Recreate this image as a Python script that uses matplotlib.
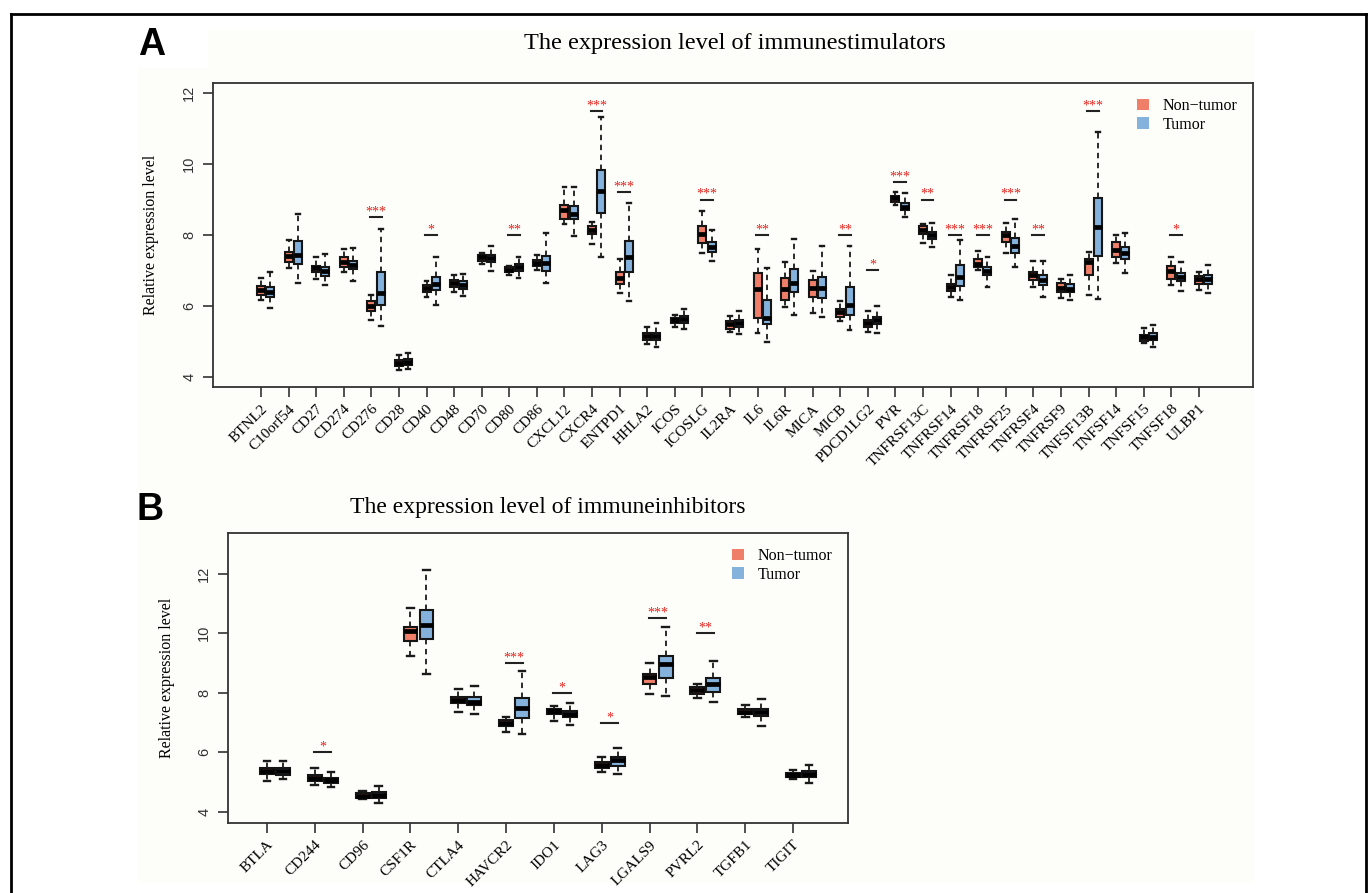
import numpy as np
import matplotlib.pyplot as plt
from matplotlib.patches import Patch, Rectangle
from matplotlib.lines import Line2D

# panel A: immunestimulators
genes_a = ["BTNL2", "C10orf54", "CD27", "CD274", "CD276", "CD28", "CD40", "CD48",
           "CD70", "CD80", "CD86", "CXCL12", "CXCR4", "ENTPD1", "HHLA2", "ICOS",
           "ICOSLG", "IL2RA", "IL6", "IL6R", "MICA", "MICB", "PDCD1LG2", "PVR",
           "TNFRSF13C", "TNFRSF14", "TNFRSF18", "TNFRSF25", "TNFRSF4", "TNFRSF9",
           "TNFSF13B", "TNFSF14", "TNFSF15", "TNFSF18", "ULBP1"]
# columns: lower whisker, q1, median, q3, upper whisker
normal_a = [
    [6.16, 6.31, 6.45, 6.56, 6.78], [7.06, 7.25, 7.41, 7.51, 7.86],
    [6.75, 6.95, 7.06, 7.13, 7.37], [6.95, 7.11, 7.25, 7.37, 7.60],
    [5.60, 5.86, 6.00, 6.15, 6.31], [4.19, 4.30, 4.40, 4.47, 4.61],
    [6.26, 6.40, 6.51, 6.59, 6.71], [6.38, 6.54, 6.65, 6.73, 6.86],
    [7.17, 7.27, 7.37, 7.44, 7.50], [6.87, 6.95, 7.01, 7.09, 7.12],
    [7.01, 7.13, 7.22, 7.29, 7.44], [8.31, 8.44, 8.71, 8.85, 9.35],
    [7.76, 8.03, 8.14, 8.25, 8.36], [6.35, 6.62, 6.78, 6.95, 7.31],
    [4.91, 5.04, 5.15, 5.22, 5.41], [5.41, 5.51, 5.60, 5.67, 5.74],
    [7.50, 7.78, 8.03, 8.24, 8.69], [5.27, 5.34, 5.48, 5.57, 5.71],
    [5.24, 5.67, 6.48, 6.92, 7.60], [5.98, 6.16, 6.49, 6.78, 7.23],
    [5.81, 6.26, 6.51, 6.73, 6.99], [5.58, 5.69, 5.82, 5.90, 6.15],
    [5.27, 5.41, 5.51, 5.60, 5.86], [8.85, 8.94, 9.04, 9.10, 9.20],
    [7.78, 8.03, 8.14, 8.24, 8.31], [6.26, 6.43, 6.54, 6.62, 6.87],
    [7.01, 7.09, 7.18, 7.31, 7.56], [7.48, 7.81, 8.00, 8.09, 8.33],
    [6.52, 6.73, 6.87, 6.96, 7.27], [6.21, 6.40, 6.51, 6.64, 6.75],
    [6.31, 6.87, 7.23, 7.32, 7.53], [7.20, 7.39, 7.58, 7.81, 8.00],
    [4.94, 5.01, 5.11, 5.18, 5.38], [6.59, 6.76, 6.99, 7.12, 7.37],
    [6.45, 6.62, 6.75, 6.84, 6.96]]
tumor_a = [
    [5.93, 6.24, 6.38, 6.54, 6.96], [6.65, 7.17, 7.44, 7.84, 8.58],
    [6.58, 6.85, 6.99, 7.11, 7.46], [6.71, 7.03, 7.16, 7.28, 7.62],
    [5.43, 6.02, 6.37, 6.95, 8.16], [4.21, 4.33, 4.42, 4.50, 4.66],
    [6.02, 6.45, 6.62, 6.82, 7.37], [6.28, 6.48, 6.59, 6.71, 6.89],
    [6.99, 7.23, 7.34, 7.44, 7.69], [6.80, 6.99, 7.09, 7.18, 7.39],
    [6.64, 6.99, 7.22, 7.41, 8.05], [7.98, 8.44, 8.59, 8.83, 9.35],
    [7.39, 8.61, 9.24, 9.84, 11.32], [6.15, 6.96, 7.39, 7.84, 8.91],
    [4.85, 5.04, 5.15, 5.24, 5.53], [5.36, 5.53, 5.63, 5.71, 5.90],
    [7.28, 7.53, 7.67, 7.81, 8.14], [5.20, 5.41, 5.51, 5.60, 5.86],
    [4.99, 5.48, 5.65, 6.16, 7.06], [5.74, 6.38, 6.64, 7.03, 7.89],
    [5.69, 6.23, 6.51, 6.82, 7.70], [5.32, 5.74, 6.02, 6.54, 7.70],
    [5.24, 5.48, 5.60, 5.69, 6.00], [8.52, 8.71, 8.80, 8.89, 9.18],
    [7.67, 7.88, 8.00, 8.09, 8.33], [6.16, 6.56, 6.82, 7.15, 7.86],
    [6.54, 6.87, 6.99, 7.11, 7.37], [7.11, 7.50, 7.69, 7.91, 8.44],
    [6.24, 6.59, 6.73, 6.87, 7.27], [6.16, 6.38, 6.49, 6.61, 6.87],
    [6.18, 7.42, 8.22, 9.04, 10.92], [6.92, 7.31, 7.50, 7.67, 8.07],
    [4.85, 5.04, 5.13, 5.22, 5.46], [6.43, 6.71, 6.82, 6.94, 7.23],
    [6.35, 6.62, 6.75, 6.87, 7.15]]
sig_a = {"CD276": ("***", 8.5), "CD40": ("*", 8.0), "CD80": ("**", 8.0),
         "CXCR4": ("***", 11.5), "ENTPD1": ("***", 9.2), "ICOSLG": ("***", 9.0),
         "IL6": ("**", 8.0), "MICB": ("**", 8.0), "PDCD1LG2": ("*", 7.0),
         "PVR": ("***", 9.5), "TNFRSF13C": ("**", 9.0), "TNFRSF14": ("***", 8.0),
         "TNFRSF18": ("***", 8.0), "TNFRSF25": ("***", 9.0), "TNFRSF4": ("**", 8.0),
         "TNFSF13B": ("***", 11.5), "TNFSF18": ("*", 8.0)}

# panel B: immuneinhibitors
genes_b = ["BTLA", "CD244", "CD96", "CSF1R", "CTLA4", "HAVCR2", "IDO1", "LAG3",
           "LGALS9", "PVRL2", "TGFB1", "TIGIT"]
normal_b = [
    [5.03, 5.27, 5.38, 5.46, 5.71], [4.90, 5.04, 5.14, 5.23, 5.46],
    [4.42, 4.46, 4.55, 4.62, 4.71], [9.24, 9.74, 10.08, 10.21, 10.86],
    [7.36, 7.64, 7.75, 7.86, 8.14], [6.68, 6.89, 6.99, 7.08, 7.19],
    [7.04, 7.28, 7.38, 7.47, 7.56], [5.34, 5.49, 5.59, 5.67, 5.85],
    [7.97, 8.31, 8.53, 8.62, 9.01], [7.83, 7.95, 8.08, 8.20, 8.31],
    [7.17, 7.28, 7.36, 7.44, 7.58], [5.09, 5.18, 5.25, 5.31, 5.40]]
tumor_b = [
    [5.09, 5.23, 5.38, 5.46, 5.71], [4.84, 4.98, 5.06, 5.15, 5.33],
    [4.30, 4.48, 4.58, 4.67, 4.87], [8.62, 9.82, 10.29, 10.77, 12.11],
    [7.28, 7.58, 7.69, 7.86, 8.22], [6.60, 7.16, 7.50, 7.81, 8.72],
    [6.93, 7.17, 7.30, 7.38, 7.64], [5.26, 5.55, 5.74, 5.83, 6.13],
    [7.88, 8.51, 8.96, 9.23, 10.19], [7.69, 8.03, 8.31, 8.48, 9.07],
    [6.89, 7.21, 7.34, 7.45, 7.78], [4.98, 5.18, 5.29, 5.38, 5.59]]
sig_b = {"CD244": ("*", 6.0), "HAVCR2": ("***", 9.0), "IDO1": ("*", 8.0),
         "LAG3": ("*", 7.0), "LGALS9": ("***", 10.5), "PVRL2": ("**", 10.0)}

col_normal = "#EF7F68"
col_tumor = "#84B2DD"
serif = "Liberation Serif"
sans = "Liberation Sans"

W, H = 1370, 893
fig = plt.figure(figsize=(W / 100, H / 100), dpi=100)


def px(x, y):
    return x / W, 1 - y / H


def stats(rows):
    out = []
    for r in rows:
        out.append(dict(whislo=r[0], q1=r[1], med=r[2], q3=r[3], whishi=r[4], fliers=[]))
    return out


def panel(rect, genes, normal, tumor, sig, xlim, ylim, half, lpad):
    l, t, r, b = rect
    ax = fig.add_axes([l / W, 1 - b / H, (r - l) / W, (b - t) / H])
    ax.set_facecolor("#fdfdf9")
    pos = np.arange(1, len(genes) + 1)
    off = 0.335
    for st, p, c in [(stats(normal), pos, col_normal), (stats(tumor), pos + off, col_tumor)]:
        ax.bxp(st, positions=p, widths=0.29, patch_artist=True, showfliers=False,
               manage_ticks=False, capwidths=0.14,
               boxprops=dict(facecolor=c, edgecolor="#151515", linewidth=1.5),
               medianprops=dict(color="black", linewidth=3.4, solid_capstyle="butt"),
               whiskerprops=dict(color="#1a1a1a", linewidth=1.3, linestyle=(0, (3, 2.5))),
               capprops=dict(color="#1a1a1a", linewidth=1.7))
    for g, (s, yl) in sig.items():
        i = genes.index(g) + 1
        xc = i + off / 2
        ax.plot([xc - half, xc + half], [yl, yl], color="#222222", lw=1.5)
        ax.text(xc, yl + 0.05, s, color="#e3231c", ha="center", va="baseline",
                fontsize=10, family=serif)
    ax.set_xlim(*xlim)
    ax.set_ylim(*ylim)
    ax.set_xticks(pos)
    ax.set_xticklabels(genes, rotation=45, ha="right", va="top", rotation_mode="anchor",
                       family=serif, fontsize=11)
    ax.set_yticks([4, 6, 8, 10, 12])
    ax.set_yticklabels(["4", "6", "8", "10", "12"], rotation=90, family=sans,
                       fontsize=10.5, color="#333333", va="center")
    ax.tick_params(axis="both", length=7, width=1.2, color="#333333")
    ax.tick_params(axis="x", pad=4)
    ax.tick_params(axis="y", pad=5)
    for sp in ax.spines.values():
        sp.set_color("#333333")
        sp.set_linewidth(1.3)
    ax.set_ylabel("Relative expression level", family=serif, fontsize=11.5, labelpad=lpad)
    handles = [Patch(facecolor=col_normal, edgecolor="none"),
               Patch(facecolor=col_tumor, edgecolor="none")]
    ax.legend(handles, ["Non\u2212tumor", "Tumor"], loc="upper right", frameon=False,
              prop={"family": serif, "size": 11.5}, handlelength=0.72, handleheight=0.72,
              handletextpad=0.9, labelspacing=0.15, borderaxespad=0.55)
    return ax


# off-white backgrounds of the pasted panels
fig.patches.append(Rectangle(px(138, 883), (1254 - 138) / W, (883 - 68) / H,
                             transform=fig.transFigure, facecolor="#fdfdf9",
                             edgecolor="none", zorder=-5))
fig.patches.append(Rectangle(px(208, 68), (1254 - 208) / W, (68 - 30) / H,
                             transform=fig.transFigure, facecolor="#fdfdf9",
                             edgecolor="none", zorder=-5))

ax_a = panel((213, 83, 1253, 387), genes_a, normal_a, tumor_a, sig_a,
             (-0.74, 36.96), (3.71, 12.29), 0.21, 17)
ax_b = panel((228, 533, 848, 823), genes_b, normal_b, tumor_b, sig_b,
             (0.184, 13.15), (3.63, 13.36), 0.18, 16)

fig.text(*px(735, 43), "The expression level of immunestimulators", family=serif,
         fontsize=17.5, ha="center", va="center")
fig.text(*px(548, 507), "The expression level of immuneinhibitors", family=serif,
         fontsize=17, ha="center", va="center")
fig.text(*px(152, 45), "A", family=sans, fontweight="bold", fontsize=27,
         ha="center", va="center")
fig.text(*px(150, 510), "B", family=sans, fontweight="bold", fontsize=27,
         ha="center", va="center")

# outer frame
for xs, ys in [([11, 11], [14, 893]), ([11, 1366], [14, 14]), ([1366, 1366], [14, 893])]:
    fig.add_artist(Line2D([x / W for x in xs], [1 - y / H for y in ys], color="black",
                          lw=2, transform=fig.transFigure))

fig.savefig("out.png", dpi=100, facecolor="white")
